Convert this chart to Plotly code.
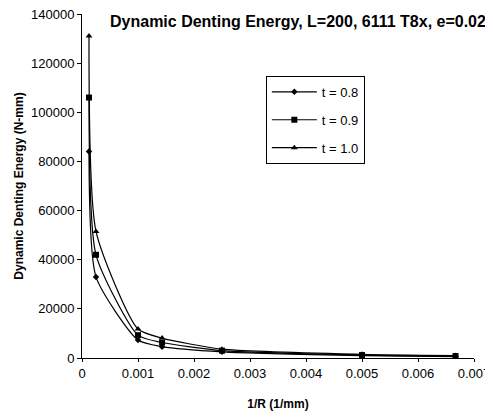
import plotly.graph_objects as go

inv_r = [0.000125, 0.00025, 0.001, 0.00143, 0.0025, 0.005, 0.00667]
e_t08 = [84000, 33000, 7300, 4600, 2500, 1000, 600]
e_t09 = [106000, 42000, 9300, 6300, 3000, 1200, 800]
e_t10 = [131000, 51500, 11800, 8100, 3600, 1500, 1000]
series_names = ["t = 0.8", "t = 0.9", "t = 1.0"]
markers = ["diamond", "square", "triangle-up"]
sizes = [5, 6, 6]

fig = go.Figure()
for i, (name, vals) in enumerate(zip(series_names, [e_t08, e_t09, e_t10])):
    fig.add_trace(go.Scatter(
        x=inv_r, y=vals, name=name, mode="lines+markers",
        line=dict(color="black", width=1.2, shape="spline", smoothing=0.6),
        marker=dict(symbol=markers[i], size=sizes[i], color="black"),
        legendgroup=name,
    ))

fig.add_annotation(
    text="<b>Dynamic Denting Energy, L=200, 6111 T8x, e=0.02</b>",
    xref="paper", yref="paper", x=1.036, y=0.977,
    xanchor="right", yanchor="middle", showarrow=False,
    font=dict(size=16, family="Liberation Sans, Arial", color="black"),
)

fig.update_layout(
    width=485, height=410,
    margin=dict(l=74, r=19, t=6, b=60),
    paper_bgcolor="white", plot_bgcolor="white",
    font=dict(family="Liberation Sans, Arial", size=13, color="black"),
    showlegend=True,
    legend=dict(x=0.469, y=0.82, xanchor="left", yanchor="top",
                bordercolor="black", borderwidth=1, bgcolor="white",
                tracegroupgap=8, font=dict(size=13), itemwidth=45),
    xaxis=dict(range=[0, 0.007], dtick=0.001, tickformat="~g", automargin=False,
               showline=True, linecolor="black", linewidth=1,
               ticks="outside", ticklen=3, tickcolor="black",
               ticklabeloverflow="allow",
               showgrid=False, zeroline=False,
               title=dict(text="<b>1/R (1/mm)</b>", font=dict(size=12), standoff=20)),
    yaxis=dict(range=[0, 140000], dtick=20000, tickformat="d", automargin=False,
               showline=True, linecolor="black", linewidth=1,
               ticks="outside", ticklen=4, tickcolor="black",
               ticklabeloverflow="allow",
               showgrid=False, zeroline=False,
               title=dict(text="<b>Dynamic Denting Energy (N-mm)</b>", font=dict(size=12), standoff=4)),
)

fig.write_html("out.html")
